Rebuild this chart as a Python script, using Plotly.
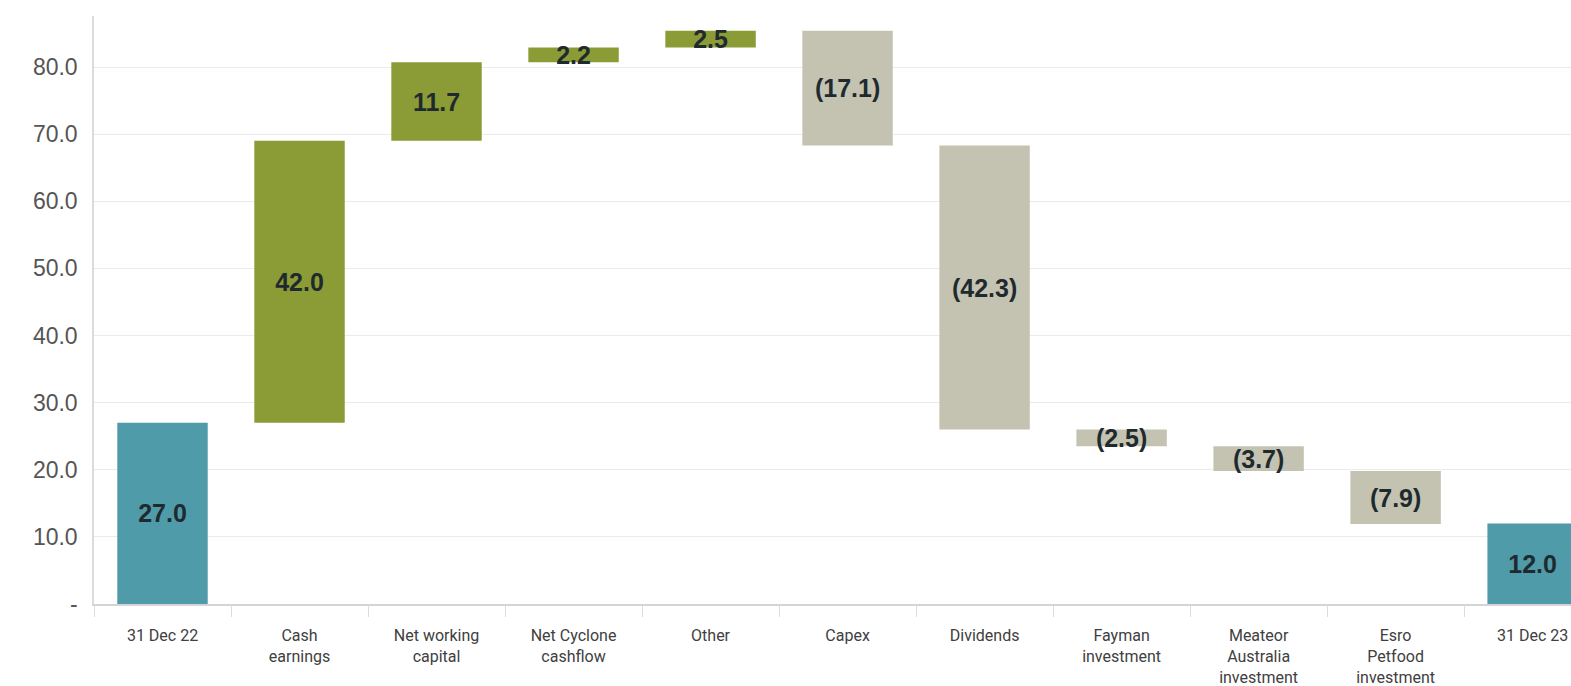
import plotly.graph_objects as go

categories = ["31 Dec 22", "Cash<br>earnings", "Net working<br>capital", "Net Cyclone<br>cashflow",
              "Other", "Capex", "Dividends", "Fayman<br>investment",
              "Meateor<br>Australia<br>investment", "Esro<br>Petfood<br>investment", "31 Dec 23"]
measures = ["absolute", "relative", "relative", "relative", "relative", "relative",
            "relative", "relative", "relative", "relative", "total"]
values = [27.0, 42.0, 11.7, 2.2, 2.5, -17.1, -42.3, -2.5, -3.7, -7.9, 12.0]

y_tickvals = [0, 10, 20, 30, 40, 50, 60, 70, 80]
y_ticktext = ["-", "10.0", "20.0", "30.0", "40.0", "50.0", "60.0", "70.0", "80.0"]

TEAL = "#4f9ba9"
GREEN = "#8b9b36"
GREY = "#c4c3b2"

# floating-bar bases derived from the data
bases, heights, colors, texts = [], [], [], []
running = 0.0
for m, v in zip(measures, values):
    if m in ("absolute", "total"):
        bases.append(0.0)
        heights.append(v)
        colors.append(TEAL)
        running = v
    else:
        bases.append(running)
        heights.append(v)
        colors.append(GREEN if v >= 0 else GREY)
        running += v
    texts.append(f"{v:.1f}" if v >= 0 else f"({abs(v):.1f})")

fig = go.Figure(go.Bar(
    x=categories,
    y=heights,
    base=bases,
    marker=dict(color=colors, line=dict(width=0)),
    width=0.66,
    text=texts,
    textposition="inside",
    insidetextanchor="middle",
    constraintext="none",
    textangle=0,
    textfont=dict(family="Liberation Sans, Arial, sans-serif", size=25, color="#1f2a2e", weight="bold"),
    hoverinfo="skip",
))

fig.update_layout(
    width=1571, height=686,
    margin=dict(l=94, r=0, t=16, b=82),
    paper_bgcolor="white",
    plot_bgcolor="white",
    showlegend=False,
    bargap=0.34,
)
fig.update_xaxes(
    type="category",
    range=[-0.5, 10.28],
    tickson="boundaries",
    ticks="outside",
    ticklen=11,
    tickcolor="#dcdcdc",
    showline=True,
    linecolor="#d4d4d4",
    linewidth=1.5,
    showgrid=False,
    tickfont=dict(family="Roboto, sans-serif", size=16, color="#404040"),
    ticklabelstandoff=16,
)
fig.update_yaxes(
    range=[0, 87.6],
    tickvals=y_tickvals,
    ticktext=y_ticktext,
    showgrid=True,
    gridcolor="#ebebeb",
    gridwidth=1,
    zeroline=False,
    showline=True,
    linecolor="#dcdcdc",
    linewidth=1.5,
    ticks="",
    tickfont=dict(family="Liberation Sans, Arial, sans-serif", size=23, color="#555555"),
    ticklabelstandoff=10,
)

fig.write_html("out.html")
